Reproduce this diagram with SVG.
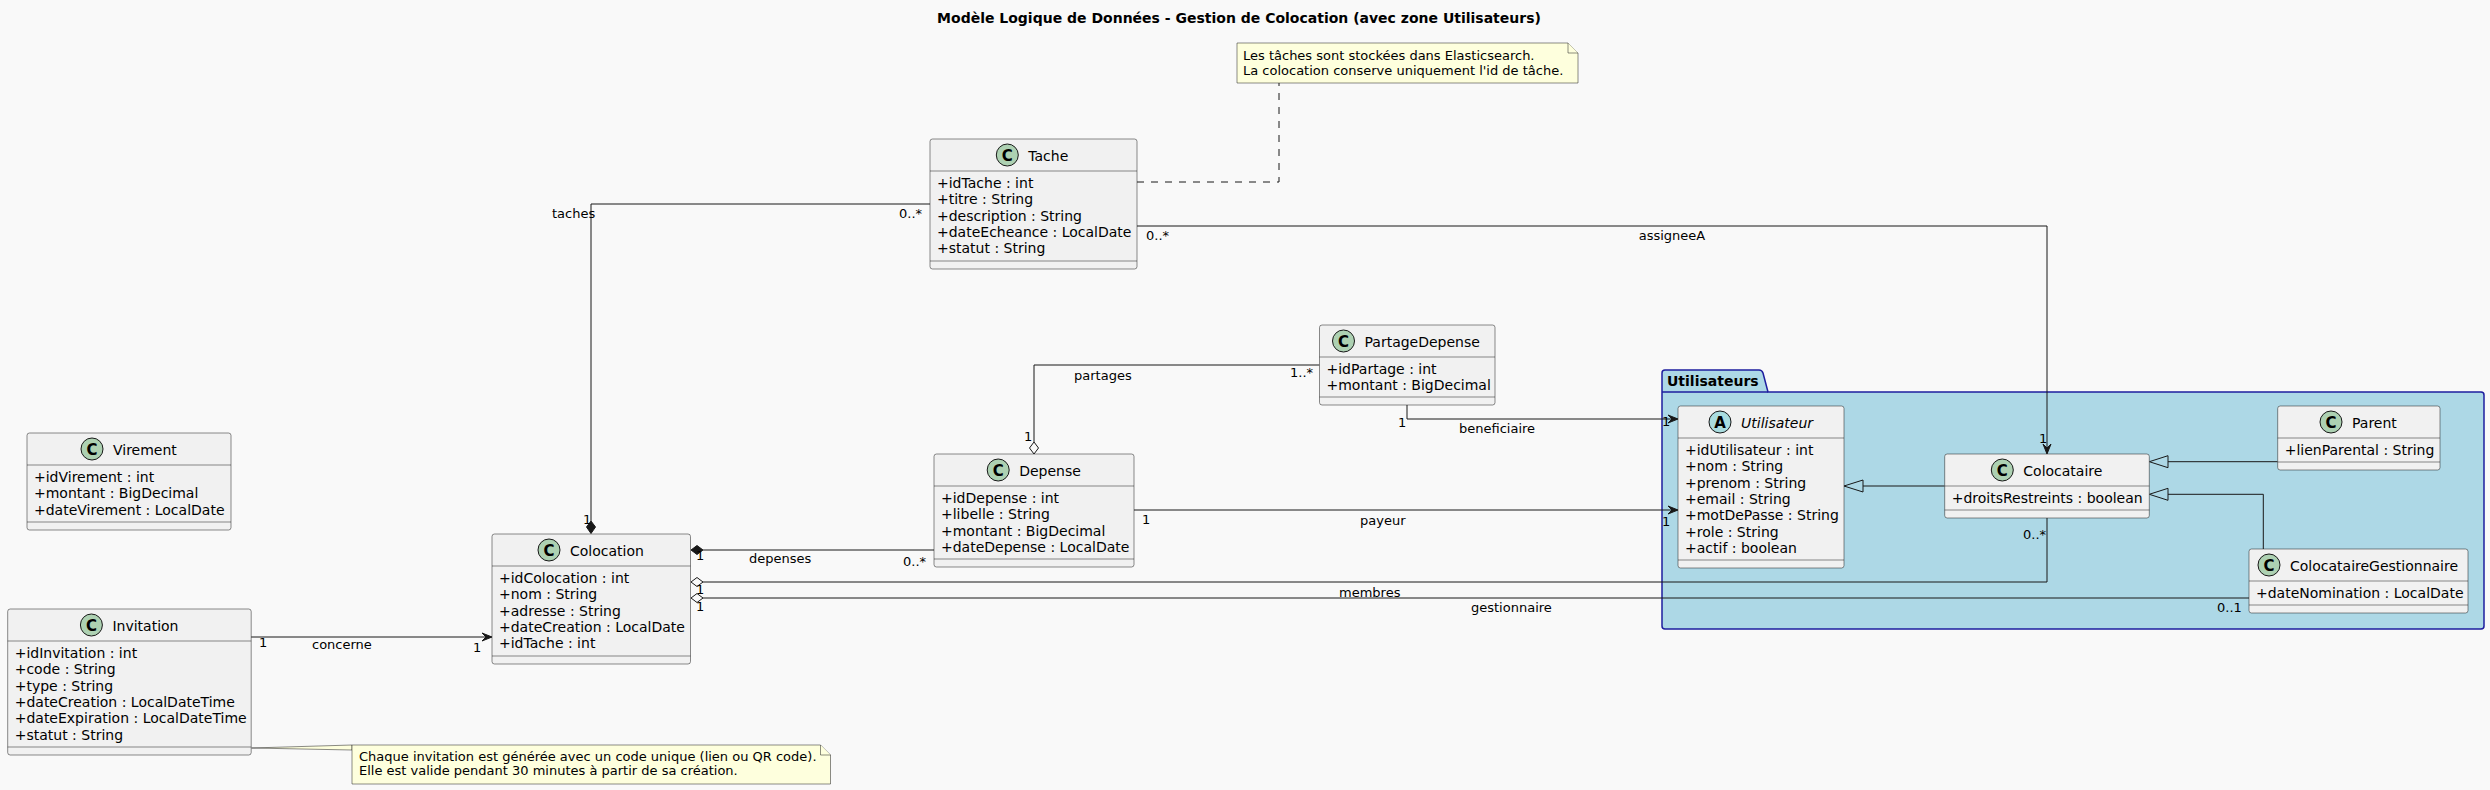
<svg xmlns="http://www.w3.org/2000/svg" width="2490" height="790" viewBox="0 0 2490 790">
<style>
text{font-family:"DejaVu Sans","Liberation Sans",sans-serif;fill:#000}
.box{fill:#F1F1F1;stroke:#181818;stroke-width:.5}
.sep{stroke:#181818;stroke-width:.5}
.ci{fill:#ADD1B2;stroke:#181818;stroke-width:1}
.ca{fill:#A9DCDF;stroke:#181818;stroke-width:1}
.cl{font-size:15px;font-weight:bold;text-anchor:middle}
.nm{font-size:14px}
.at{font-size:14px}
.lb{font-size:13px}
.ln{fill:none;stroke:#181818;stroke-width:1}
.ah{fill:#181818;stroke:#181818;stroke-width:1}
.hd{fill:#F9F9F9;stroke:#181818;stroke-width:1}
.tr{fill:none;stroke:#181818;stroke-width:1}
.note{fill:#FEFFDD;stroke:#181818;stroke-width:.5}
</style>
<rect width="2490" height="790" fill="#F9F9F9"/>
<text x="1239" y="23" font-size="14" font-weight="bold" text-anchor="middle">Modèle Logique de Données - Gestion de Colocation (avec zone Utilisateurs)</text>

<g id="pkg-Utilisateurs">
<path d="M1662,392 V373 Q1662,370 1665,370 H1759 Q1762,370 1763,373 L1768,392 H2481 Q2484,392 2484,395 V626 Q2484,629 2481,629 H1665 Q1662,629 1662,626 Z" fill="#ADD8E6" stroke="#1E1E9E" stroke-width="1.5"/>
<line x1="1662" y1="392" x2="1768" y2="392" stroke="#1E1E9E" stroke-width="1.5"/>
<text x="1667" y="386" font-size="14" font-weight="bold">Utilisateurs</text>
</g>

<g id="connectors">
<!-- taches -->
<path class="ln" d="M930,204 H591 V521"/>
<polygon class="ah" points="591,521 586.5,527 591,533.5 595.5,527"/>
<text class="lb" x="552" y="218">taches</text>
<text class="lb" x="899" y="218">0..*</text>
<text class="lb" x="583" y="524">1</text>
<!-- depenses -->
<path class="ln" d="M703,550 H934"/>
<polygon class="ah" points="691,550 697,545.5 703,550 697,554.5"/>
<text class="lb" x="696" y="560">1</text>
<text class="lb" x="749" y="563">depenses</text>
<text class="lb" x="903" y="566">0..*</text>
<!-- membres -->
<path class="ln" d="M703,582 H2047 V518"/>
<polygon class="hd" points="691,582 697,577.5 703,582 697,586.5"/>
<text class="lb" x="696" y="594">1</text>
<text class="lb" x="1339" y="597">membres</text>
<text class="lb" x="2023" y="539">0..*</text>
<!-- gestionnaire -->
<path class="ln" d="M703,598 H2249"/>
<polygon class="hd" points="691,598 697,593.5 703,598 697,602.5"/>
<text class="lb" x="696" y="611">1</text>
<text class="lb" x="1471" y="612">gestionnaire</text>
<text class="lb" x="2217" y="612">0..1</text>
<!-- concerne -->
<path class="ln" d="M251,637 H491"/>
<polygon class="ah" points="492,637 482,633 486,637 482,641"/>
<text class="lb" x="259" y="647">1</text>
<text class="lb" x="312" y="649">concerne</text>
<text class="lb" x="473" y="652">1</text>
<!-- partages -->
<path class="ln" d="M1319.5,365 H1034 V442"/>
<polygon class="hd" points="1034,442 1029.5,448 1034,454 1038.5,448"/>
<text class="lb" x="1074" y="380">partages</text>
<text class="lb" x="1290" y="377">1..*</text>
<text class="lb" x="1024" y="441">1</text>
<!-- beneficiaire -->
<path class="ln" d="M1407,405 V419 H1677"/>
<polygon class="ah" points="1678,419 1668,415 1672,419 1668,423"/>
<text class="lb" x="1398" y="427">1</text>
<text class="lb" x="1459" y="433">beneficiaire</text>
<text class="lb" x="1662" y="426">1</text>
<!-- payeur -->
<path class="ln" d="M1134,510 H1677"/>
<polygon class="ah" points="1678,510 1668,506 1672,510 1668,514"/>
<text class="lb" x="1142" y="524">1</text>
<text class="lb" x="1360" y="525">payeur</text>
<text class="lb" x="1662" y="526">1</text>
<!-- assigneeA -->
<path class="ln" d="M1137,226 H2047 V453"/>
<polygon class="ah" points="2047,454 2043,444 2047,448 2051,444"/>
<text class="lb" x="1146" y="240">0..*</text>
<text class="lb" x="1672" y="240" text-anchor="middle">assigneeA</text>
<text class="lb" x="2039" y="443">1</text>
<!-- generalizations -->
<path class="ln" d="M1944.7,486 H1863"/>
<polygon class="tr" points="1844,486 1863,480 1863,492"/>
<path class="ln" d="M2277.7,461.7 H2168"/>
<polygon class="tr" points="2149.3,461.7 2168,455.7 2168,467.7"/>
<path class="ln" d="M2263.3,549 V494.3 H2168"/>
<polygon class="tr" points="2149.3,494.3 2168,488.3 2168,500.3"/>
<!-- note links -->
<path class="ln" d="M1137,182 H1279 V83" stroke-dasharray="7,7"/>
</g>

<g id="note-taches">
<path class="note" d="M1237,43 H1568 L1578,53 V83 H1237 Z"/>
<path class="note" d="M1568,43 V53 H1578"/>
<text class="lb" x="1243" y="60">Les tâches sont stockées dans Elasticsearch.</text>
<text class="lb" x="1243" y="75">La colocation conserve uniquement l'id de tâche.</text>
</g>

<g id="note-invitation">
<polygon class="note" points="251.5,748 352,745 352,750"/>
<path class="note" d="M352,745 H820.5 L830.5,755 V784 H352 Z"/>
<path class="note" d="M820.5,745 V755 H830.5"/>
<text class="lb" x="359" y="761">Chaque invitation est générée avec un code unique (lien ou QR code).</text>
<text class="lb" x="359" y="775">Elle est valide pendant 30 minutes à partir de sa création.</text>
</g>

<g id="Virement">
<rect class="box" x="27" y="433" width="204" height="97" rx="2.5"/>
<line class="sep" x1="27" y1="465" x2="231" y2="465"/>
<line class="sep" x1="27" y1="522" x2="231" y2="522"/>
<circle class="ci" cx="92" cy="449" r="11"/>
<text class="cl" x="92" y="454.5">C</text>
<text class="nm" x="113" y="454.5">Virement</text>
<text class="at" x="34" y="482">+idVirement : int</text>
<text class="at" x="34" y="498.3">+montant : BigDecimal</text>
<text class="at" x="34" y="514.6">+dateVirement : LocalDate</text>
</g>

<g id="Invitation">
<rect class="box" x="7.7" y="609" width="243.5" height="146" rx="2.5"/>
<line class="sep" x1="7.7" y1="641" x2="251.2" y2="641"/>
<line class="sep" x1="7.7" y1="747" x2="251.2" y2="747"/>
<circle class="ci" cx="91.4" cy="625" r="11"/>
<text class="cl" x="91.4" y="630.5">C</text>
<text class="nm" x="112.4" y="630.5">Invitation</text>
<text class="at" x="14.7" y="658">+idInvitation : int</text>
<text class="at" x="14.7" y="674.3">+code : String</text>
<text class="at" x="14.7" y="690.6">+type : String</text>
<text class="at" x="14.7" y="706.9">+dateCreation : LocalDateTime</text>
<text class="at" x="14.7" y="723.2">+dateExpiration : LocalDateTime</text>
<text class="at" x="14.7" y="739.5">+statut : String</text>
</g>

<g id="Colocation">
<rect class="box" x="492" y="534" width="198.5" height="130" rx="2.5"/>
<line class="sep" x1="492" y1="566" x2="690.5" y2="566"/>
<line class="sep" x1="492" y1="656" x2="690.5" y2="656"/>
<circle class="ci" cx="549" cy="550" r="11"/>
<text class="cl" x="549" y="555.5">C</text>
<text class="nm" x="570" y="555.5">Colocation</text>
<text class="at" x="499" y="583">+idColocation : int</text>
<text class="at" x="499" y="599.3">+nom : String</text>
<text class="at" x="499" y="615.6">+adresse : String</text>
<text class="at" x="499" y="631.9">+dateCreation : LocalDate</text>
<text class="at" x="499" y="648.2">+idTache : int</text>
</g>

<g id="Tache">
<rect class="box" x="930" y="139" width="207" height="130" rx="2.5"/>
<line class="sep" x1="930" y1="171" x2="1137" y2="171"/>
<line class="sep" x1="930" y1="261" x2="1137" y2="261"/>
<circle class="ci" cx="1007.3" cy="155" r="11"/>
<text class="cl" x="1007.3" y="160.5">C</text>
<text class="nm" x="1028.3" y="160.5">Tache</text>
<text class="at" x="937" y="188">+idTache : int</text>
<text class="at" x="937" y="204.3">+titre : String</text>
<text class="at" x="937" y="220.6">+description : String</text>
<text class="at" x="937" y="236.9">+dateEcheance : LocalDate</text>
<text class="at" x="937" y="253.2">+statut : String</text>
</g>

<g id="Depense">
<rect class="box" x="934" y="454" width="200" height="113" rx="2.5"/>
<line class="sep" x1="934" y1="486" x2="1134" y2="486"/>
<line class="sep" x1="934" y1="559" x2="1134" y2="559"/>
<circle class="ci" cx="998.2" cy="470" r="11"/>
<text class="cl" x="998.2" y="475.5">C</text>
<text class="nm" x="1019.2" y="475.5">Depense</text>
<text class="at" x="941" y="503">+idDepense : int</text>
<text class="at" x="941" y="519.3">+libelle : String</text>
<text class="at" x="941" y="535.6">+montant : BigDecimal</text>
<text class="at" x="941" y="551.9">+dateDepense : LocalDate</text>
</g>

<g id="PartageDepense">
<rect class="box" x="1319.5" y="325" width="175.5" height="80" rx="2.5"/>
<line class="sep" x1="1319.5" y1="357" x2="1495" y2="357"/>
<line class="sep" x1="1319.5" y1="397" x2="1495" y2="397"/>
<circle class="ci" cx="1343.5" cy="341" r="11"/>
<text class="cl" x="1343.5" y="346.5">C</text>
<text class="nm" x="1364.5" y="346.5">PartageDepense</text>
<text class="at" x="1326.5" y="374">+idPartage : int</text>
<text class="at" x="1326.5" y="390.3">+montant : BigDecimal</text>
</g>

<g id="Utilisateur">
<rect class="box" x="1678" y="406" width="166" height="162" rx="2.5"/>
<line class="sep" x1="1678" y1="438" x2="1844" y2="438"/>
<line class="sep" x1="1678" y1="560" x2="1844" y2="560"/>
<circle class="ca" cx="1720" cy="422" r="11"/>
<text class="cl" x="1720" y="427.5">A</text>
<text class="nm" x="1741" y="427.5" font-style="italic">Utilisateur</text>
<text class="at" x="1685" y="455">+idUtilisateur : int</text>
<text class="at" x="1685" y="471.3">+nom : String</text>
<text class="at" x="1685" y="487.6">+prenom : String</text>
<text class="at" x="1685" y="503.9">+email : String</text>
<text class="at" x="1685" y="520.2">+motDePasse : String</text>
<text class="at" x="1685" y="536.5">+role : String</text>
<text class="at" x="1685" y="552.8">+actif : boolean</text>
</g>

<g id="Colocataire">
<rect class="box" x="1944.7" y="454" width="204.6" height="64" rx="2.5"/>
<line class="sep" x1="1944.7" y1="486" x2="2149.3" y2="486"/>
<line class="sep" x1="1944.7" y1="510" x2="2149.3" y2="510"/>
<circle class="ci" cx="2002.3" cy="470" r="11"/>
<text class="cl" x="2002.3" y="475.5">C</text>
<text class="nm" x="2023.3" y="475.5">Colocataire</text>
<text class="at" x="1951.7" y="503">+droitsRestreints : boolean</text>
</g>

<g id="Parent">
<rect class="box" x="2277.7" y="406" width="162.3" height="64" rx="2.5"/>
<line class="sep" x1="2277.7" y1="438" x2="2440" y2="438"/>
<line class="sep" x1="2277.7" y1="462" x2="2440" y2="462"/>
<circle class="ci" cx="2331" cy="422" r="11"/>
<text class="cl" x="2331" y="427.5">C</text>
<text class="nm" x="2352" y="427.5">Parent</text>
<text class="at" x="2284.7" y="455">+lienParental : String</text>
</g>

<g id="ColocataireGestionnaire">
<rect class="box" x="2249" y="549" width="219" height="64" rx="2.5"/>
<line class="sep" x1="2249" y1="581" x2="2468" y2="581"/>
<line class="sep" x1="2249" y1="605" x2="2468" y2="605"/>
<circle class="ci" cx="2269" cy="565" r="11"/>
<text class="cl" x="2269" y="570.5">C</text>
<text class="nm" x="2290" y="570.5">ColocataireGestionnaire</text>
<text class="at" x="2256" y="598">+dateNomination : LocalDate</text>
</g>
</svg>
